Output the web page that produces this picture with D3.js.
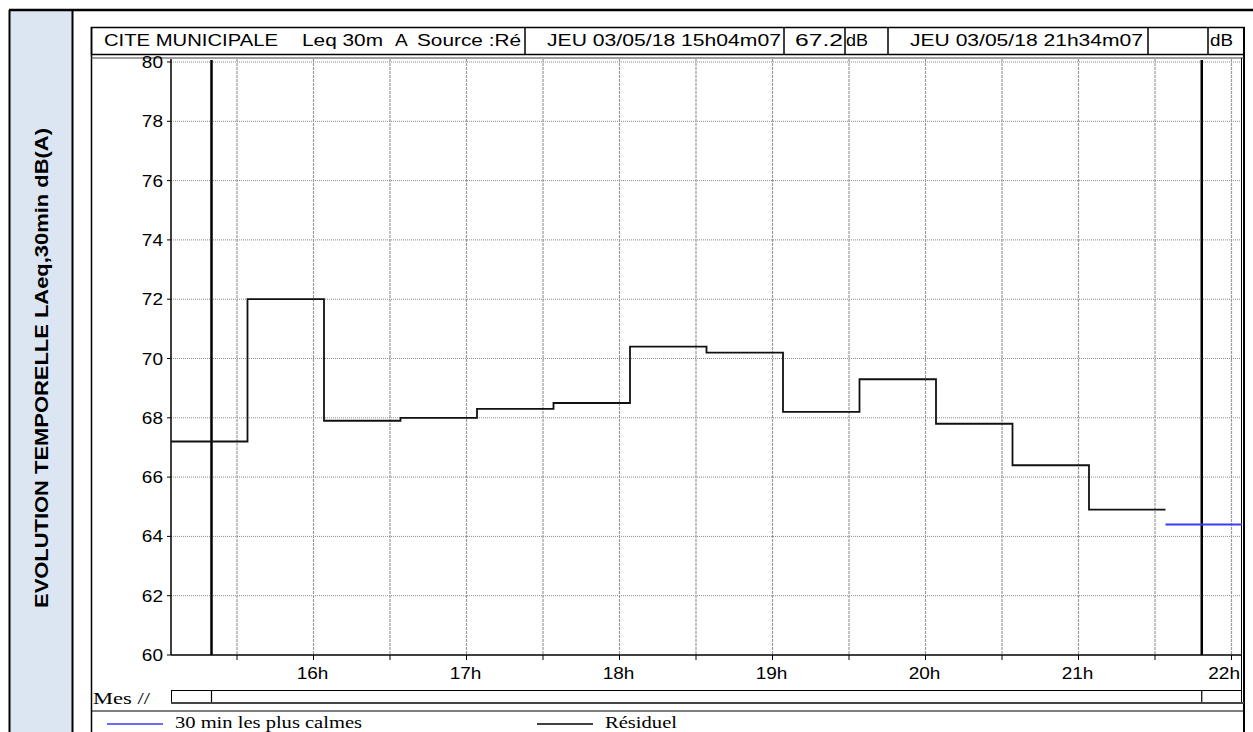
<!DOCTYPE html>
<html><head><meta charset="utf-8">
<script src="https://cdn.jsdelivr.net/npm/d3@7"></script>
<style>body{margin:0;background:#fff;} svg{display:block}</style>
</head><body>
<script>
// ---------- DATA ----------
const intervalStarts = ["15:04:07","15:34:07","16:04:07","16:34:07","17:04:07","17:34:07","18:04:07","18:34:07","19:04:07","19:34:07","20:04:07","20:34:07","21:04:07"];
const residuelValues = [67.2, 72.0, 67.9, 68.0, 68.3, 68.5, 70.4, 70.2, 68.2, 69.3, 67.8, 66.4, 64.9];
const residuelEnd = "21:34:07";
const calmeStarts = ["21:34:07"];
const calmeValues = [64.4];
const calmeEnd = "22:04:07";
const domainTimes = ["15:04:07", "22:04:07"];
const markerTimes = ["15:20:00", "21:48:20"];
const yTicks = [60, 62, 64, 66, 68, 70, 72, 74, 76, 78, 80];
const hourTicks = ["16:00:00","17:00:00","18:00:00","19:00:00","20:00:00","21:00:00","22:00:00"];
const hourLabels = ["16h","17h","18h","19h","20h","21h","22h"];
const halfHourTicks = ["15:30:00","16:30:00","17:30:00","18:30:00","19:30:00","20:30:00","21:30:00"];
const titleText = "EVOLUTION TEMPORELLE LAeq,30min dB(A)";
const headerSite = ["CITE MUNICIPALE", "Leq 30m", "A", "Source :Ré"];
const headerStart = "JEU 03/05/18 15h04m07";
const headerStartValue = "67.2";
const headerEnd = "JEU 03/05/18 21h34m07";
const headerEndValue = "";
const unit = "dB";
const mesLabel = "Mes //";
const legendLabels = ["30 min les plus calmes", "Résiduel"];

// ---------- SETUP ----------
const W = 1253, H = 732;
const parse = d3.timeParse("%H:%M:%S");
const svg = d3.select("body").append("svg").attr("width", W).attr("height", H);

const x = d3.scaleTime().domain(domainTimes.map(parse)).range([171, 1242]);
const y = d3.scaleLinear().domain([60, 80]).range([655, 62]);

const sans = "'Liberation Sans', Arial, sans-serif";
const serif = "'Liberation Serif', 'Times New Roman', serif";

function stext(g, xx, yy, s, o = {}) {
  const sx = o.sx || 1.12;
  const t = g.append("text")
    .attr("transform", `translate(${xx},${yy}) scale(${sx},1)`)
    .attr("font-family", o.family || sans)
    .attr("font-size", o.size || 17)
    .attr("text-anchor", o.anchor || "start")
    .attr("fill", "#000")
    .text(s);
  if (o.len) t.attr("textLength", o.len / sx).attr("lengthAdjust", "spacingAndGlyphs");
  return t;
}

// ---------- OUTER TABLE ----------
svg.append("rect").attr("x", 9).attr("y", 10).attr("width", 63).attr("height", 800)
  .attr("fill", "#dce6f2");
svg.append("line").attr("x1", 9).attr("x2", 1260).attr("y1", 10).attr("y2", 10).attr("stroke", "#000").attr("stroke-width", 2.5);
svg.append("line").attr("x1", 9.5).attr("x2", 9.5).attr("y1", 10).attr("y2", 740).attr("stroke", "#000").attr("stroke-width", 2);
svg.append("line").attr("x1", 72.5).attr("x2", 72.5).attr("y1", 10).attr("y2", 740).attr("stroke", "#000").attr("stroke-width", 2);

svg.append("text")
  .attr("transform", "translate(48,368) rotate(-90)")
  .attr("text-anchor", "middle")
  .attr("font-family", sans).attr("font-weight", "bold").attr("font-size", 19)
  .attr("textLength", 480).attr("lengthAdjust", "spacingAndGlyphs")
  .text(titleText);

// ---------- PANEL FRAME ----------
const frame = svg.append("g");
frame.append("line").attr("x1", 91.5).attr("x2", 91.5).attr("y1", 27).attr("y2", 740).attr("stroke", "#000").attr("stroke-width", 1.5);
frame.append("line").attr("x1", 1244).attr("x2", 1244).attr("y1", 27).attr("y2", 740).attr("stroke", "#000").attr("stroke-width", 2);
frame.append("rect").attr("x", 91.5).attr("y", 27.5).attr("width", 1152.5).attr("height", 27)
  .attr("fill", "none").attr("stroke", "#000").attr("stroke-width", 1.5);
[525, 784, 845, 888, 1148, 1208].forEach(sx => {
  frame.append("line").attr("x1", sx).attr("x2", sx).attr("y1", 28).attr("y2", 55).attr("stroke", "#000").attr("stroke-width", 1.5);
});
frame.append("line").attr("x1", 91).attr("x2", 1244).attr("y1", 58).attr("y2", 58).attr("stroke", "#444").attr("stroke-width", 1.2);

// header texts
stext(svg, 104, 46, headerSite[0], { len: 174 });
stext(svg, 302, 46, headerSite[1], { len: 81 });
stext(svg, 395, 46, headerSite[2], {});
stext(svg, 417, 46, headerSite[3], { len: 104 });
stext(svg, 547, 46, headerStart, { len: 234 });
stext(svg, 795, 46, headerStartValue, { len: 48 });
stext(svg, 846, 46, unit, { len: 22 });
stext(svg, 910, 46, headerEnd, { len: 233 });
stext(svg, 1150, 46, headerEndValue, {});
stext(svg, 1210, 46, unit, { len: 23 });

// ---------- GRID ----------
const grid = svg.append("g");
grid.selectAll(".hg").data(yTicks.slice(1)).join("line")
  .attr("x1", 171).attr("x2", 1241)
  .attr("y1", d => y(d)).attr("y2", d => y(d))
  .attr("stroke", "#8a8a8a").attr("stroke-width", 1).attr("stroke-dasharray", "1,1");
grid.selectAll(".vg").data(hourTicks.concat(halfHourTicks).map(parse)).join("line")
  .attr("x1", d => x(d)).attr("x2", d => x(d))
  .attr("y1", 59).attr("y2", 655)
  .attr("stroke", "#999").attr("stroke-width", 1.2).attr("stroke-dasharray", "3,1");

// plot right border
svg.append("line").attr("x1", 1241.5).attr("x2", 1241.5).attr("y1", 58).attr("y2", 703).attr("stroke", "#000").attr("stroke-width", 1);

// ---------- AXES ----------
const yAxis = svg.append("g");
yAxis.append("line").attr("x1", 171).attr("x2", 171).attr("y1", 59).attr("y2", 655).attr("stroke", "#000").attr("stroke-width", 1.5);
yAxis.selectAll(".yt").data(yTicks).join("line")
  .attr("x1", 167).attr("x2", 171).attr("y1", d => y(d)).attr("y2", d => y(d))
  .attr("stroke", "#000").attr("stroke-width", 1);
yTicks.forEach(v => stext(yAxis, 163, y(v) + 6, String(v), { anchor: "end", size: 17 }));

const xAxis = svg.append("g");
xAxis.append("line").attr("x1", 171).attr("x2", 1241).attr("y1", 655).attr("y2", 655).attr("stroke", "#000").attr("stroke-width", 1.5);
xAxis.selectAll(".xt").data(hourTicks.concat(halfHourTicks).map(parse)).join("line")
  .attr("x1", d => x(d)).attr("x2", d => x(d)).attr("y1", 655).attr("y2", 660)
  .attr("stroke", "#000").attr("stroke-width", 1);
hourTicks.forEach((t, i) => {
  const last = i === hourTicks.length - 1;
  stext(xAxis, last ? 1240 : x(parse(t)) - 1, 679, hourLabels[i], { anchor: last ? "end" : "middle", size: 17 });
});

// ---------- MARKERS ----------
svg.selectAll(".mk").data(markerTimes.map(parse)).join("line")
  .attr("x1", d => x(d)).attr("x2", d => x(d)).attr("y1", 60).attr("y2", 655)
  .attr("stroke", "#000").attr("stroke-width", 2.5);

// ---------- SERIES ----------
const stepPts = intervalStarts.map((t, i) => [parse(t), residuelValues[i]]);
stepPts.push([parse(residuelEnd), residuelValues[residuelValues.length - 1]]);
const line = d3.line().x(d => x(d[0])).y(d => y(d[1])).curve(d3.curveStepAfter);
svg.append("path").datum(stepPts).attr("d", line)
  .attr("fill", "none").attr("stroke", "#111").attr("stroke-width", 1.8);

const calmePts = calmeStarts.map((t, i) => [parse(t), calmeValues[i]]);
calmePts.push([parse(calmeEnd), calmeValues[calmeValues.length - 1]]);
svg.append("path").datum(calmePts).attr("d", line)
  .attr("fill", "none").attr("stroke", "#3c3cf0").attr("stroke-width", 2);

// ---------- MES ROW ----------
stext(svg, 93, 704, mesLabel, { family: serif, size: 17, len: 57 });
svg.append("rect").attr("x", 171.5).attr("y", 690.5).attr("width", 1070).attr("height", 12)
  .attr("fill", "none").attr("stroke", "#000").attr("stroke-width", 1);
svg.append("line").attr("x1", 171).attr("x2", 1244).attr("y1", 703).attr("y2", 703).attr("stroke", "#444").attr("stroke-width", 2);
svg.selectAll(".mm").data(markerTimes.map(parse)).join("line")
  .attr("x1", d => x(d)).attr("x2", d => x(d)).attr("y1", 691).attr("y2", 702)
  .attr("stroke", "#000").attr("stroke-width", 1.2);
svg.append("line").attr("x1", 91).attr("x2", 1244).attr("y1", 711).attr("y2", 711).attr("stroke", "#000").attr("stroke-width", 1);

// ---------- LEGEND ----------
svg.append("line").attr("x1", 107).attr("x2", 163).attr("y1", 724).attr("y2", 724).attr("stroke", "#3c3cf0").attr("stroke-width", 1.5);
stext(svg, 175, 728, legendLabels[0], { family: serif, size: 16, len: 187 });
svg.append("line").attr("x1", 537).attr("x2", 593).attr("y1", 724).attr("y2", 724).attr("stroke", "#000").attr("stroke-width", 1.5);
stext(svg, 605, 728, legendLabels[1], { family: serif, size: 16, len: 72 });
</script>
</body></html>
